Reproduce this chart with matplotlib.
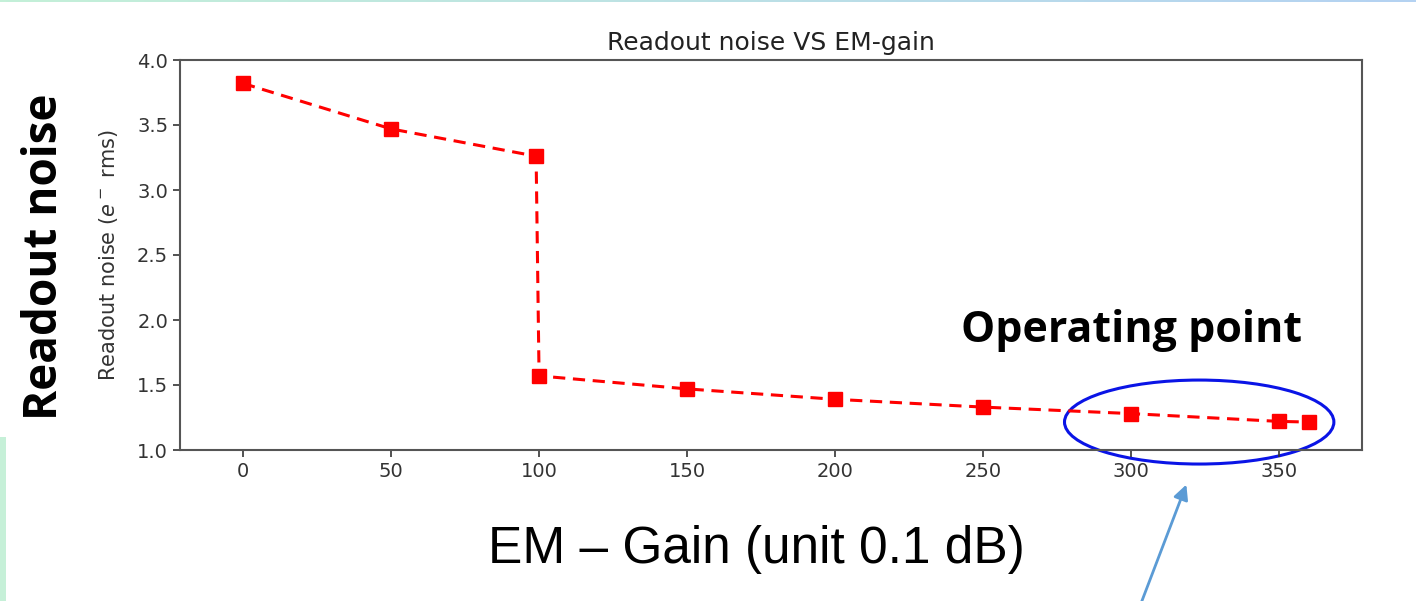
import matplotlib
matplotlib.use("Agg")
import matplotlib.pyplot as plt
import numpy as np
from matplotlib.patches import Ellipse, Rectangle

# data
gain = [0, 50, 99, 100, 150, 200, 250, 300, 350, 360]
noise = [3.82, 3.47, 3.26, 1.57, 1.47, 1.39, 1.33, 1.28, 1.22, 1.215]
xticks = [0, 50, 100, 150, 200, 250, 300, 350]
yticks = [1.0, 1.5, 2.0, 2.5, 3.0, 3.5, 4.0]

W, H = 1416, 601
fig = plt.figure(figsize=(W / 100, H / 100), dpi=100)
fig.patch.set_facecolor("white")

# slide decorations: thin top gradient bar and left green strip
strip = fig.add_axes([0, 1 - 2 / H, 1, 2 / H])
strip.imshow(np.linspace(0, 1, 256)[None, :], aspect="auto",
             cmap=matplotlib.colors.LinearSegmentedColormap.from_list(
                 "g", ["#C4F0D8", "#B4D2F2"]))
strip.axis("off")
fig.patches.append(Rectangle((0, 0), 6 / W, (H - 437) / H, transform=fig.transFigure,
                             facecolor="#C6F0D8", edgecolor="none"))

ax = fig.add_axes([180 / W, 151 / H, 1182 / W, 390 / H])
ax.plot(gain, noise, color="red", linestyle="--", marker="s",
        markersize=10, linewidth=2.2, dashes=(4, 2.5))
ax.set_ylim(1.0, 4.0)
ax.set_xlim(-21.3, 378)
ax.set_xticks(xticks)
ax.set_yticks(yticks)
ax.set_yticklabels([f"{v:.1f}" for v in yticks])
ax.tick_params(labelsize=14, colors="#333333", length=5, width=1.2)
for s in ax.spines.values():
    s.set_color("#555555")
    s.set_linewidth(1.5)

ax.set_title("Readout noise VS EM-gain", fontsize=18, color="#222222", pad=7)
ax.set_ylabel(r"Readout noise ($e^-$ rms)", fontsize=15, color="#333333", labelpad=12)

# slide annotations
fig.text(45 / W, 1 - 257 / H, "Readout noise", rotation=90, fontsize=33,
         fontweight="bold", family="Open Sans", ha="center", va="center")
fig.text(1132 / W, 1 - 330 / H, "Operating point", fontsize=31,
         fontweight="bold", family="Open Sans", ha="center", va="center")
fig.text(756 / W, 1 - 550 / H, "EM \u2013 Gain (unit 0.1 dB)", fontsize=37,
         family="Liberation Sans", ha="center", va="center")

ell = Ellipse((323, 1.215), 91, 0.646, fill=False, edgecolor="#0A14E6",
              linewidth=2.2, clip_on=False)
ax.add_patch(ell)
ax.annotate("", xy=(319, 0.754), xytext=(303, -0.2), xycoords="data",
            annotation_clip=False,
            arrowprops=dict(arrowstyle="-|>", color="#5B9BD5", lw=2,
                            mutation_scale=22))

fig.savefig("out.png", dpi=100)
